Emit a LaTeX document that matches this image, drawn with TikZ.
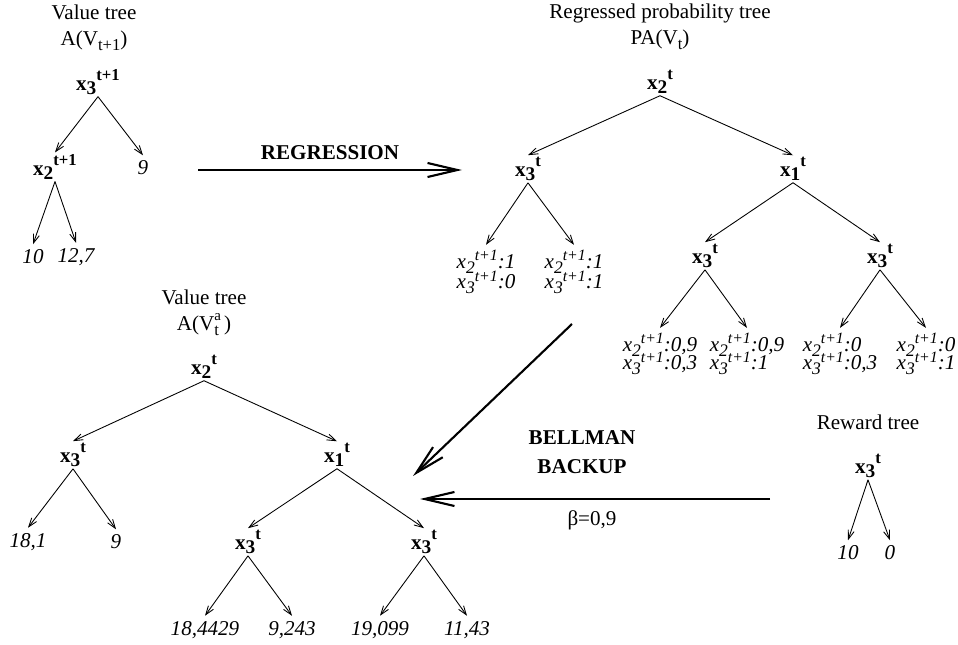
\documentclass[12pt,tikz,border=0pt]{standalone}
\usepackage{fontspec}
\setmainfont{Liberation Serif}
\usepackage{tikz}
\usetikzlibrary{arrows.meta}
\newcommand{\varx}[2]{x\raisebox{-2.4pt}{\fontsize{11pt}{11pt}\selectfont #1}\raisebox{5.5pt}{\fontsize{9.5pt}{9.5pt}\selectfont #2}}
\newcommand{\varp}[2]{x\raisebox{-2.8pt}{\fontsize{10pt}{10pt}\selectfont #1}\raisebox{4.2pt}{\fontsize{9pt}{9pt}\selectfont #2}}
\newcommand{\lowtext}[1]{\raisebox{-3pt}{\fontsize{9.5pt}{9.5pt}\selectfont #1}}
\newcommand{\hightext}[1]{\raisebox{5.5pt}{\fontsize{8.5pt}{8.5pt}\selectfont #1}}
\newcommand{\tightlines}[1]{\setlength{\lineskiplimit}{-50pt}\fontsize{12pt}{#1}\selectfont}
\tikzset{
  dtvar/.style = {inner sep=1pt, font=\bfseries},
  dtleaf/.style = {inner sep=3pt, font=\itshape},
  dtprob/.style = {inner sep=3pt, align=left, font={\itshape\tightlines{#1}}},
  dtprob/.default = 10.3pt,
  dttitle/.style = {align=center},
  dtlabel/.style = {align=center, font={\bfseries\fontsize{12pt}{16.5pt}\selectfont}},
  dtedge/.style = {-{Straight Barb[length=5pt,width=3.5pt]}, line width=0.5pt},
  dtstep/.style = {-{Straight Barb[length=17pt,width=8pt]}, line width=1.2pt}
}
\begin{document}
\begin{tikzpicture}[x=0.02cm, y=-0.02cm]
\useasboundingbox (0,0) rectangle (958,645);

% value tree at t+1
\node[dttitle] (ttlA) at (94,28) {Value tree\\A(V\lowtext{t+1})};
\node[dtvar]  (a1) at (98,82)  {\varx{3}{t+1}};
\node[dtvar]  (a2) at (55,167) {\varx{2}{t+1}};
\node[dtleaf] (a3) at (143,168) {9};
\node[dtleaf] (a4) at (33,257) {10};
\node[dtleaf] (a5) at (76,257) {12,7};
\draw[dtedge] (a1.south) -- (a2.north);
\draw[dtedge] (a1.south) -- (a3.north);
\draw[dtedge] (a2.south) -- (a4.north);
\draw[dtedge] (a2.south) -- (a5.north);

% regressed probability tree
\node[dttitle] (ttlP) at (660,27) {Regressed probability tree\\PA(V\lowtext{t})};
\node[dtvar]  (p1) at (660,82)  {\varx{2}{t}};
\node[dtvar]  (p2) at (528,169) {\varx{3}{t}};
\node[dtvar]  (p3) at (793,169) {\varx{1}{t}};
\node[dtprob=11.5pt] (p4) at (486,272) {\varp{2}{t+1}:1\\\varp{3}{t+1}:0};
\node[dtprob=11.5pt] (p5) at (574,272) {\varp{2}{t+1}:1\\\varp{3}{t+1}:1};
\node[dtvar]  (p6) at (705,256) {\varx{3}{t}};
\node[dtvar]  (p7) at (880,256) {\varx{3}{t}};
\node[dtprob] (p8) at (660,354) {\varp{2}{t+1}:0,9\\\varp{3}{t+1}:0,3};
\node[dtprob] (p9) at (747,354) {\varp{2}{t+1}:0,9\\\varp{3}{t+1}:1};
\node[dtprob] (p10) at (840,354) {\varp{2}{t+1}:0\\\varp{3}{t+1}:0,3};
\node[dtprob] (p11) at (926,354) {\varp{2}{t+1}:0\\\varp{3}{t+1}:1};
\draw[dtedge] (p1.south) -- (p2.north);
\draw[dtedge] (p1.south) -- (p3.north);
\draw[dtedge] (p2.south) -- (p4.north);
\draw[dtedge] (p2.south) -- (p5.north);
\draw[dtedge] (p3.south) -- (p6.north);
\draw[dtedge] (p3.south) -- (p7.north);
\draw[dtedge] (p6.south) -- (p8.north);
\draw[dtedge] (p6.south) -- (p9.north);
\draw[dtedge] (p7.south) -- (p10.north);
\draw[dtedge] (p7.south) -- (p11.north);

% value tree at t
\node[dttitle] (ttlV) at (204,313) {Value tree\\A(V\rlap{\hightext{a}}\lowtext{t}\ )};
\node[dtvar]  (v1) at (204,367) {\varx{2}{t}};
\node[dtvar]  (v2) at (73,455)  {\varx{3}{t}};
\node[dtvar]  (v3) at (337,455) {\varx{1}{t}};
\node[dtleaf] (v4) at (28,542)  {18,1};
\node[dtleaf] (v5) at (116,542) {9};
\node[dtvar]  (v6) at (248,542) {\varx{3}{t}};
\node[dtvar]  (v7) at (424,542) {\varx{3}{t}};
\node[dtleaf] (v8) at (205,630) {18,4429};
\node[dtleaf] (v9) at (292,630) {9,243};
\node[dtleaf] (v10) at (380,630) {19,099};
\node[dtleaf] (v11) at (467,630) {11,43};
\draw[dtedge] (v1.south) -- (v2.north);
\draw[dtedge] (v1.south) -- (v3.north);
\draw[dtedge] (v2.south) -- (v4.north);
\draw[dtedge] (v2.south) -- (v5.north);
\draw[dtedge] (v3.south) -- (v6.north);
\draw[dtedge] (v3.south) -- (v7.north);
\draw[dtedge] (v6.south) -- (v8.north);
\draw[dtedge] (v6.south) -- (v9.north);
\draw[dtedge] (v7.south) -- (v10.north);
\draw[dtedge] (v7.south) -- (v11.north);

% reward tree
\node[dttitle] (ttlR) at (868,422) {Reward tree};
\node[dtvar]  (r1) at (868,466) {\varx{3}{t}};
\node[dtleaf] (r2) at (848,553) {10};
\node[dtleaf] (r3) at (890,553) {0};
\draw[dtedge] (r1.south) -- (r2.north);
\draw[dtedge] (r1.south) -- (r3.north);

% steps between the trees
\coordinate (regS) at (198,170);
\coordinate (regE) at (462,170);
\coordinate (bbS)  at (572,324);
\coordinate (bbE)  at (413,476);
\coordinate (rwS)  at (770,499);
\coordinate (rwE)  at (420,499);
\draw[dtstep] (regS) -- node[dtlabel, above=1pt] (lblReg) {REGRESSION} (regE);
\draw[dtstep] (bbS) -- (bbE);
\draw[dtstep] (rwS) -- (rwE);
\node[dtlabel] (lblBB) at (582,452) {BELLMAN\\BACKUP};
\node (lblBeta) at (592,520) {β=0,9};
\end{tikzpicture}
\end{document}
